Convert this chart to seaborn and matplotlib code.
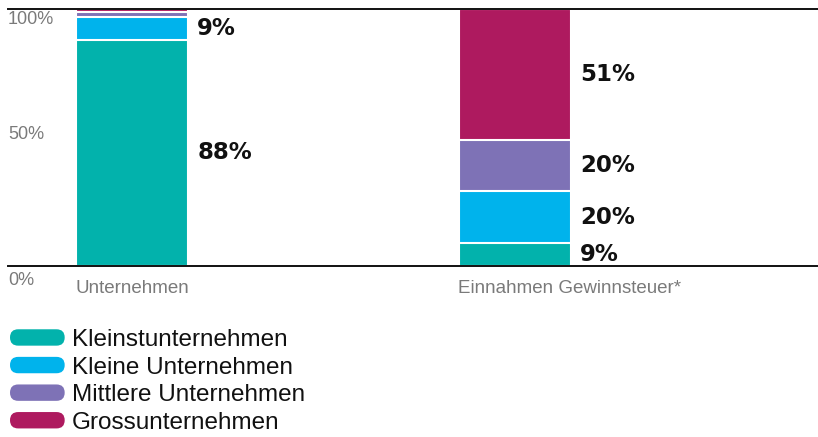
import matplotlib
matplotlib.use("Agg")
import matplotlib.pyplot as plt
import seaborn as sns
import numpy as np
from matplotlib.patches import Patch, FancyBboxPatch
from matplotlib.legend_handler import HandlerPatch

# data
categories = ["Unternehmen", "Einnahmen Gewinnsteuer*"]
groups = ["Kleinstunternehmen", "Kleine Unternehmen", "Mittlere Unternehmen", "Grossunternehmen"]
kleinst = [88, 9]
kleine = [9, 20]
mittlere = [2, 20]
gross = [1, 51]
y_ticks = [0, 50, 100]
y_tick_labels = ["0%", "50%", "100%"]

colors = ["#02B2AC", "#00B3EC", "#7E72B6", "#AE1A5F"]

values = np.array([kleinst, kleine, mittlere, gross], dtype=float)
cum = np.cumsum(values, axis=0)

sns.set_style("white")
plt.rcParams['font.family'] = ['Liberation Sans', 'DejaVu Sans']

fig = plt.figure(figsize=(8.18, 4.37), dpi=100)
ax = fig.add_axes([8 / 818, 1 - 266 / 437, 810 / 818, 257 / 437])

bar_w = 0.292
# stacked bars: draw cumulative totals from top layer down
for i in range(len(groups) - 1, -1, -1):
    sns.barplot(x=categories, y=cum[i], color=colors[i], width=bar_w,
                edgecolor="white", linewidth=1.5, saturation=1, ax=ax)

ax.set_xlim(-0.324, 1.791)
ax.set_ylim(0, 100)
ax.set_xticks([])
ax.set_yticks([])
ax.set_xlabel("")
ax.set_ylabel("")
for s in ["left", "right"]:
    ax.spines[s].set_visible(False)
for s in ["top", "bottom"]:
    ax.spines[s].set_color("#111111")
    ax.spines[s].set_linewidth(1.4)

# value labels
for j in range(len(categories)):
    for i in range(len(groups)):
        v = values[i, j]
        if v < 5:
            continue
        mid = cum[i, j] - v / 2
        ax.text(j + bar_w / 2 + 0.024, mid, f"{int(v)}%", ha="left", va="center",
                fontsize=16.5, fontweight="bold", family="DejaVu Sans", color="#111111")

# y labels inside the axes
ytr = ax.get_yaxis_transform()
offsets = {0: -5.6, 50: 1.0, 100: -4.2}
for t, lab in zip(y_ticks, y_tick_labels):
    ax.text(0.0, t + offsets[t], lab, transform=ytr, ha="left", va="center",
            fontsize=13, color="#7a7a7a", clip_on=False)

# category labels, left aligned at bar edge
for j, c in enumerate(categories):
    ax.text(j - bar_w / 2 - 0.002, -8.7, c, ha="left", va="center", fontsize=13.5,
            color="#7a7a7a", clip_on=False)


class PillHandler(HandlerPatch):
    def create_artists(self, legend, orig_handle, xdescent, ydescent,
                       width, height, fontsize, trans):
        p = FancyBboxPatch((-xdescent, -ydescent), width, height,
                           boxstyle=f"round,pad=0,rounding_size={height / 2}",
                           facecolor=orig_handle.get_facecolor(),
                           edgecolor="none", transform=trans)
        return [p]


handles = [Patch(facecolor=c, label=g) for c, g in zip(colors, groups)]
leg = fig.legend(handles=handles, loc="upper left", bbox_to_anchor=(10 / 818, 1 - 329 / 437),
                 frameon=False, fontsize=17.5, handlelength=2.25, handleheight=0.66,
                 handletextpad=0.3, labelspacing=0.23, borderpad=0, borderaxespad=0,
                 handler_map={Patch: PillHandler()})
for t in leg.get_texts():
    t.set_color("#111111")

fig.savefig("out.png", dpi=100)
